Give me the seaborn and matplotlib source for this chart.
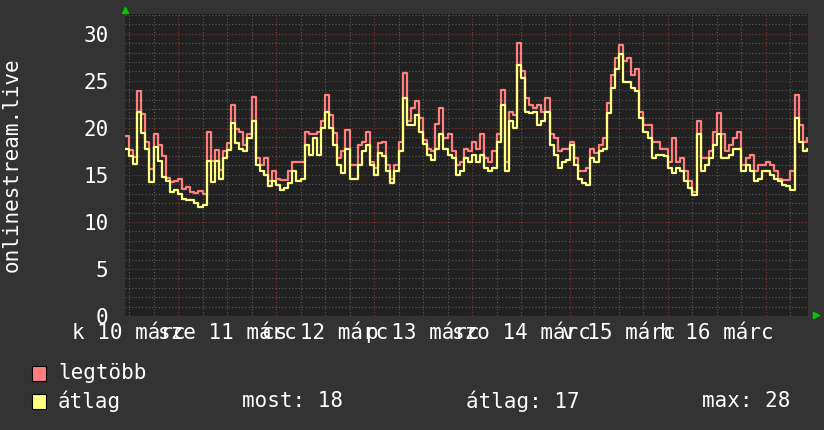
import numpy as np
import pandas as pd
import matplotlib
matplotlib.use("Agg")
import matplotlib.pyplot as plt
import matplotlib.transforms as mtransforms
from matplotlib.patches import Rectangle
import seaborn as sns

sns.set_theme(style="dark")
plt.rcParams['font.family'] = ['DejaVu Sans Mono', 'DejaVu Sans']

# hourly samples, starting 10 márc 11:00
legtobb = [19.1, 17.6, 16.9, 23.9, 21.5, 18.5, 15.6, 19.3, 18.2, 17.0, 14.7, 14.2, 14.4, 14.6,
           13.5, 13.7, 13.2, 13.1, 13.3, 13.0, 19.6, 16.5, 17.6, 15.5, 17.5, 18.4, 22.4, 19.9,
           19.6, 18.2, 19.3, 23.3, 16.8, 16.1, 16.8, 14.3, 15.4, 14.6, 14.5, 14.5, 15.4, 16.4,
           16.4, 16.4, 19.6, 19.3, 19.3, 19.6, 20.7, 23.5, 21.4, 19.4, 16.8, 17.5, 19.8, 16.1,
           16.1, 18.2, 18.5, 19.6, 16.4, 15.7, 18.4, 18.5, 16.1, 14.6, 16.1, 18.5, 25.8, 20.7,
           22.1, 22.8, 21.0, 18.7, 17.7, 17.5, 20.4, 22.1, 18.9, 19.3, 17.5, 16.1, 16.4, 17.8,
           17.5, 18.5, 17.7, 19.3, 16.8, 16.4, 17.5, 19.3, 24.0, 16.4, 21.7, 21.4, 29.0, 26.0,
           23.2, 22.4, 22.1, 22.4, 21.7, 23.2, 19.3, 18.9, 17.5, 17.8, 17.8, 18.5, 16.8, 15.4,
           15.4, 15.7, 17.8, 17.3, 18.2, 18.9, 22.6, 25.6, 27.4, 28.8, 27.1, 27.4, 25.6, 26.3,
           21.7, 20.3, 20.3, 18.5, 18.5, 17.8, 17.8, 16.4, 18.9, 16.4, 16.8, 15.4, 14.3, 13.2,
           20.7, 16.8, 16.8, 17.5, 19.6, 21.6, 19.3, 17.5, 18.2, 18.9, 19.6, 16.1, 16.8, 17.1,
           15.4, 16.1, 16.1, 16.4, 16.1, 15.4, 14.6, 14.5, 14.5, 15.4, 23.5, 20.3, 18.5, 18.9]
atlag = [17.8, 17.0, 16.2, 21.7, 19.5, 17.8, 14.2, 18.0, 16.5, 14.8, 14.3, 13.2, 13.4, 13.0,
         12.4, 12.3, 12.3, 12.0, 11.6, 11.8, 16.5, 14.2, 16.5, 14.6, 16.8, 17.6, 20.5, 18.4,
         17.8, 17.5, 18.9, 20.7, 16.1, 15.4, 15.0, 13.8, 14.3, 13.9, 13.4, 13.6, 14.1, 15.4,
         14.3, 14.6, 18.2, 17.1, 18.9, 17.1, 20.0, 21.7, 20.0, 18.2, 16.1, 15.2, 17.8, 14.6,
         14.6, 16.1, 17.5, 18.2, 16.1, 15.0, 17.3, 17.0, 15.4, 14.1, 15.4, 17.5, 23.2, 20.3,
         20.3, 21.4, 19.6, 18.3, 17.1, 16.6, 17.8, 19.3, 17.8, 17.1, 16.8, 15.0, 15.4, 16.8,
         16.4, 17.1, 16.4, 17.1, 15.7, 15.4, 15.7, 18.5, 22.4, 15.4, 20.7, 20.0, 26.7, 25.3,
         21.7, 21.6, 21.7, 20.3, 20.7, 21.7, 18.2, 17.1, 15.7, 16.4, 16.6, 18.2, 16.1, 14.6,
         14.1, 13.9, 16.8, 16.4, 17.5, 17.8, 21.6, 24.2, 26.3, 27.8, 24.9, 24.9, 24.2, 23.9,
         21.0, 19.6, 18.9, 16.8, 17.1, 17.1, 17.0, 15.7, 15.2, 15.7, 15.4, 14.3, 13.6, 12.9,
         19.3, 15.4, 16.1, 16.8, 18.2, 19.3, 16.8, 16.8, 17.1, 17.8, 17.8, 15.4, 16.1, 15.4,
         14.3, 14.6, 15.4, 15.4, 15.0, 14.6, 14.3, 13.9, 13.8, 13.4, 21.0, 18.5, 17.5, 17.8]
day_labels = ['k 10 márc', 'sze 11 márc', 'cs 12 márc', 'p 13 márc',
              'szo 14 márc', 'v 15 márc', 'h 16 márc']
start_hour = 11
stat_texts = ['most: 18', 'átlag: 17', 'max: 28']

df = pd.DataFrame({'ora': np.arange(len(legtobb)), 'legtöbb': legtobb, 'átlag': atlag})

BG = '#333333'
fig = plt.figure(figsize=(8.24, 4.30), dpi=100, facecolor=BG)
ax = fig.add_axes([125/824, 1-316/430, 683/824, 302/430])
ax.set_facecolor('#212121')

sns.lineplot(data=df, x='ora', y='legtöbb', color='#ff7f7f', lw=1.6,
             drawstyle='steps-post', ax=ax)
sns.lineplot(data=df, x='ora', y='átlag', color='#ffff80', lw=1.6,
             drawstyle='steps-post', ax=ax)

ax.set_xlim(0, 167.3)
ax.set_ylim(0, 32.1)

# x grid: red at midnight, gray every 6 hours
midnights = [24 - start_hour + 24*i for i in range(7)]
six_h = [h for h in range(1, 168, 6) if h not in midnights]
noons = [12 - start_hour + 24*i for i in range(len(day_labels))]
ax.set_xticks(midnights)
ax.set_xticklabels([])
ax.set_xticks(six_h, minor=True)
ax.set_xticklabels([], minor=True)

ax.set_yticks(range(0, 31, 5))
ax.set_yticks(range(0, 33), minor=True)

dot = (0, (1, 2))
ax.grid(which='major', color='#8c3434', ls=dot, lw=0.8)
ax.grid(which='minor', color='#5c5c5c', ls=dot, lw=0.8)
ax.set_axisbelow(True)

ax.tick_params(axis='y', which='both', length=0, pad=12, labelsize=15, labelcolor='white')
ax.tick_params(axis='x', which='major', length=3, color='#a03030')
ax.tick_params(axis='x', which='minor', length=3, color='#666666')

# day labels centred on noon, same baseline (they overlap, as in the original)
trans = mtransforms.blended_transform_factory(ax.transData, ax.transAxes)
for h, lab in zip(noons, day_labels):
    ax.text(h, -0.076, lab, transform=trans, ha='center', va='baseline',
            color='white', fontsize=15, clip_on=False)

for s in ax.spines.values():
    s.set_visible(False)
ax.set_xlabel('')
ax.set_ylabel('')

# axis arrows
ax.plot([0], [1.012], marker='^', ms=5, color='#00cc00', transform=ax.transAxes, clip_on=False)
ax.plot([1.011], [0.003], marker='>', ms=5, color='#00cc00', transform=ax.transAxes, clip_on=False)

fig.text(12/824, 1-165/430, 'onlinestream.live', rotation=90, ha='center', va='center',
         color='white', fontsize=15)

# legend
for i, (name, col) in enumerate([('legtöbb', '#ff7f7f'), ('átlag', '#ffff80')]):
    yc = 373 + 28*i
    fig.add_artist(Rectangle((32/824, 1-(yc+8)/430), 14/824, 15/430, facecolor=col,
                             edgecolor='black', lw=0.8, transform=fig.transFigure))
    fig.text(58/824, 1-yc/430, name, va='center', ha='left', color='white', fontsize=15)
for x0, t in zip([242, 466, 702], stat_texts):
    fig.text(x0/824, 1-401/430, t, va='center', ha='left', color='white', fontsize=15)

fig.savefig('out.png', dpi=100, facecolor=BG)
